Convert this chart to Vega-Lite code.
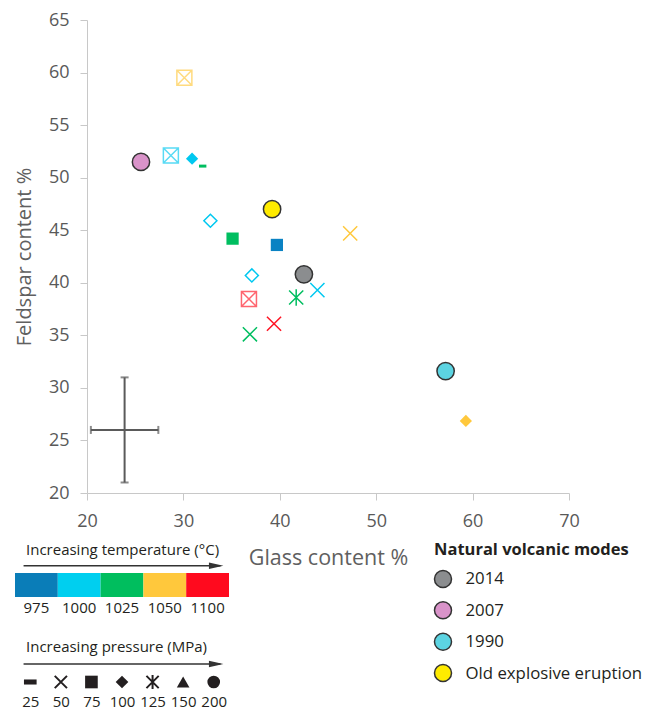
{
  "$schema": "https://vega.github.io/schema/vega-lite/v6.json",
  "padding": {"left": 14, "top": 11, "right": 0, "bottom": 0},
  "config": {
    "font": "Open Sans",
    "view": {"stroke": null},
    "axis": {"grid": false, "domainColor": "#C8C8C8", "tickColor": "#C8C8C8", "tickSize": 7, "labelFontSize": 18, "labelColor": "#595959", "titleFontSize": 20, "titleFontWeight": "normal", "titleColor": "#606060"}
  },
  "datasets": {
    "experiments": [
      {"glass": 30.1, "feldspar": 59.5, "temp": 1050, "symbol": "boxed-x"},
      {"glass": 28.7, "feldspar": 52.1, "temp": 1000, "symbol": "boxed-x"},
      {"glass": 30.9, "feldspar": 51.8, "temp": 1000, "symbol": "diamond"},
      {"glass": 32.0, "feldspar": 51.1, "temp": 1025, "symbol": "dash"},
      {"glass": 32.8, "feldspar": 45.9, "temp": 1000, "symbol": "open-diamond"},
      {"glass": 35.1, "feldspar": 44.2, "temp": 1025, "symbol": "square"},
      {"glass": 39.7, "feldspar": 43.6, "temp": 975, "symbol": "square"},
      {"glass": 47.3, "feldspar": 44.7, "temp": 1050, "symbol": "x"},
      {"glass": 37.1, "feldspar": 40.7, "temp": 1000, "symbol": "open-diamond"},
      {"glass": 43.9, "feldspar": 39.3, "temp": 1000, "symbol": "x"},
      {"glass": 36.8, "feldspar": 38.45, "temp": 1100, "symbol": "boxed-x"},
      {"glass": 41.7, "feldspar": 38.6, "temp": 1025, "symbol": "asterisk"},
      {"glass": 39.4, "feldspar": 36.1, "temp": 1100, "symbol": "x"},
      {"glass": 36.9, "feldspar": 35.1, "temp": 1025, "symbol": "x"},
      {"glass": 59.3, "feldspar": 26.85, "temp": 1050, "symbol": "diamond"}
    ],
    "natural": [
      {"mode": "2014", "glass": 42.5, "feldspar": 40.8},
      {"mode": "2007", "glass": 25.6, "feldspar": 51.5},
      {"mode": "1990", "glass": 57.2, "feldspar": 31.6},
      {"mode": "Old explosive eruption", "glass": 39.2, "feldspar": 47.0}
    ],
    "uncertainty": [{"glass": 23.9, "feldspar": 26.0, "glass_err": 3.5, "feldspar_err": 5.0}],
    "temperatures": [{"temp": 975}, {"temp": 1000}, {"temp": 1025}, {"temp": 1050}, {"temp": 1100}],
    "pressures": [{"p": 25}, {"p": 50}, {"p": 75}, {"p": 100}, {"p": 125}, {"p": 150}, {"p": 200}],
    "none": []
  },
  "spacing": -28,
  "resolve": {"scale": {"color": "independent", "fill": "independent", "shape": "independent", "stroke": "independent"}},
  "vconcat": [
    {
      "spacing": -2,
      "resolve": {"scale": {"color": "independent", "fill": "independent", "shape": "independent", "stroke": "independent"}},
      "hconcat": [
        {"width": 1, "height": 1, "data": {"name": "none"}, "mark": "point"},
        {
          "width": 482,
          "height": 473,
          "encoding": {
            "x": {"field": "glass", "type": "quantitative", "scale": {"domain": [20, 70], "nice": false, "zero": false},
              "axis": {"values": [20, 30, 40, 50, 60, 70], "labelPadding": 12, "labelFlush": false, "labelOverlap": false, "title": "Glass content %", "titleFontSize": 21.5, "titlePadding": 17}},
            "y": {"field": "feldspar", "type": "quantitative", "scale": {"domain": [20, 65], "nice": false, "zero": false},
              "axis": {"values": [20, 25, 30, 35, 40, 45, 50, 55, 60, 65], "labelPadding": 11, "labelOverlap": false, "title": "Feldspar content %", "titlePadding": 14}}
          },
          "layer": [
            {"data": {"name": "uncertainty"}, "mark": {"type": "errorbar", "ticks": true, "size": 8, "thickness": 2, "color": "#5a5a5a"}, "encoding": {"xError": {"field": "glass_err"}}},
            {"data": {"name": "uncertainty"}, "mark": {"type": "errorbar", "ticks": true, "size": 8, "thickness": 2, "color": "#5a5a5a"}, "encoding": {"yError": {"field": "feldspar_err"}}},
            {"data": {"name": "natural"}, "mark": {"type": "point", "shape": "circle", "filled": true, "size": 300, "stroke": "#333333", "strokeWidth": 1.5, "opacity": 1},
              "encoding": {"fill": {"field": "mode", "type": "nominal", "scale": {"domain": ["2014", "2007", "1990", "Old explosive eruption"], "range": ["#8B8D8F", "#D993C9", "#5CD4E2", "#FFEB00"]}, "legend": null}}},
            {"data": {"name": "experiments"}, "transform": [{"filter": {"field": "symbol", "equal": "square"}}],
              "mark": {"type": "point", "shape": "square", "filled": true, "size": 150, "opacity": 1},
              "encoding": {"color": {"field": "temp", "type": "ordinal", "scale": {"domain": [975, 1000, 1025, 1050, 1100], "range": ["#0A82C3", "#00C8F0", "#00BE60", "#FFC83C", "#FF1423"]}, "legend": null}}},
            {"data": {"name": "experiments"}, "transform": [{"filter": {"field": "symbol", "equal": "diamond"}}],
              "mark": {"type": "point", "shape": "diamond", "filled": true, "size": 150, "opacity": 1},
              "encoding": {"color": {"field": "temp", "type": "ordinal", "legend": null}}},
            {"data": {"name": "experiments"}, "transform": [{"filter": {"field": "symbol", "equal": "dash"}}],
              "mark": {"type": "point", "shape": "M-1,-0.4H1V0.4H-1Z", "filled": true, "size": 55, "opacity": 1},
              "encoding": {"color": {"field": "temp", "type": "ordinal", "legend": null}}},
            {"data": {"name": "experiments"}, "transform": [{"filter": {"field": "symbol", "equal": "open-diamond"}}],
              "mark": {"type": "point", "shape": "diamond", "filled": false, "size": 170, "strokeWidth": 1.5, "opacity": 1},
              "encoding": {"color": {"field": "temp", "type": "ordinal", "legend": null}}},
            {"data": {"name": "experiments"}, "transform": [{"filter": {"field": "symbol", "equal": "x"}}],
              "mark": {"type": "point", "shape": "M-1,-1L1,1M-1,1L1,-1", "filled": false, "size": 200, "strokeWidth": 1.5, "opacity": 1},
              "encoding": {"color": {"field": "temp", "type": "ordinal", "legend": null}}},
            {"data": {"name": "experiments"}, "transform": [{"filter": {"field": "symbol", "equal": "asterisk"}}],
              "mark": {"type": "point", "shape": "M-1,-1L1,1M-1,1L1,-1M0,-1.15L0,1.15", "filled": false, "size": 200, "strokeWidth": 1.5, "opacity": 1},
              "encoding": {"color": {"field": "temp", "type": "ordinal", "legend": null}}},
            {"data": {"name": "experiments"}, "transform": [{"filter": {"field": "symbol", "equal": "boxed-x"}}],
              "mark": {"type": "point", "shape": "M-1,-1H1V1H-1ZM-1,-1L1,1M-1,1L1,-1", "filled": false, "size": 225, "strokeWidth": 1.5, "opacity": 0.65},
              "encoding": {"color": {"field": "temp", "type": "ordinal", "legend": null}}}
          ]
        }
      ]
    },
    {
      "spacing": 202,
      "resolve": {"scale": {"color": "independent", "fill": "independent", "shape": "independent", "stroke": "independent"}},
      "hconcat": [
        {
          "spacing": 24,
          "resolve": {"scale": {"color": "independent", "fill": "independent", "shape": "independent", "stroke": "independent"}},
          "vconcat": [
            {
              "width": 214,
              "height": 24,
              "title": {"text": "Increasing temperature (°C)", "anchor": "start", "frame": "group", "dx": 11, "fontSize": 15, "fontWeight": "normal", "color": "#231F20", "offset": 5},
              "resolve": {"scale": {"x": "independent"}},
              "layer": [
                {"data": {"name": "temperatures"}, "mark": {"type": "rect"},
                  "encoding": {
                    "x": {"field": "temp", "type": "ordinal", "scale": {"paddingInner": 0, "paddingOuter": 0},
                      "axis": {"orient": "bottom", "domain": false, "ticks": false, "labelAngle": 0, "labelPadding": 3, "labelFontSize": 15, "labelColor": "#231F20", "title": null}},
                    "color": {"field": "temp", "type": "ordinal", "scale": {"domain": [975, 1000, 1025, 1050, 1100], "range": ["#0A7DB8", "#00CFEF", "#00BE5E", "#FFC83C", "#FF0A1E"]}, "legend": null}
                  }},
                {"data": {"values": [{}]}, "mark": {"type": "rule", "color": "#333333", "strokeWidth": 1.5},
                  "encoding": {
                    "x": {"datum": 0.04, "type": "quantitative", "scale": {"domain": [0, 1]}, "axis": null},
                    "x2": {"datum": 0.96},
                    "y": {"datum": 1.3, "type": "quantitative", "scale": {"domain": [0, 1]}, "axis": null}
                  }},
                {"data": {"values": [{}]}, "mark": {"type": "point", "shape": "M-1,-0.45L1,0L-1,0.45Z", "filled": true, "color": "#333333", "size": 210, "opacity": 1},
                  "encoding": {
                    "x": {"datum": 0.94, "type": "quantitative", "scale": {"domain": [0, 1]}, "axis": null},
                    "y": {"datum": 1.3, "type": "quantitative", "scale": {"domain": [0, 1]}, "axis": null}
                  }}
              ]
            },
            {
              "width": 214,
              "height": 20,
              "title": {"text": "Increasing pressure (MPa)", "anchor": "start", "frame": "group", "dx": 11, "fontSize": 15, "fontWeight": "normal", "color": "#231F20", "offset": 6},
              "resolve": {"scale": {"x": "independent"}},
              "layer": [
                {"data": {"values": [{}]}, "mark": {"type": "rule", "color": "#333333", "strokeWidth": 1.5},
                  "encoding": {
                    "x": {"datum": 0.04, "type": "quantitative", "scale": {"domain": [0, 1]}, "axis": null},
                    "x2": {"datum": 0.96},
                    "y": {"datum": 1.4, "type": "quantitative", "scale": {"domain": [0, 1]}, "axis": null}
                  }},
                {"data": {"values": [{}]}, "mark": {"type": "point", "shape": "M-1,-0.45L1,0L-1,0.45Z", "filled": true, "color": "#333333", "size": 210, "opacity": 1},
                  "encoding": {
                    "x": {"datum": 0.94, "type": "quantitative", "scale": {"domain": [0, 1]}, "axis": null},
                    "y": {"datum": 1.4, "type": "quantitative", "scale": {"domain": [0, 1]}, "axis": null}
                  }},
                {"data": {"name": "pressures"}, "transform": [{"filter": {"field": "p", "oneOf": [25, 75, 100, 150, 200]}}],
                  "mark": {"type": "point", "filled": true, "color": "#231F20", "size": 160, "opacity": 1},
                  "encoding": {
                    "x": {"field": "p", "type": "ordinal", "scale": {"domain": [25, 50, 75, 100, 125, 150, 200], "paddingInner": 0, "paddingOuter": 0},
                      "axis": {"orient": "bottom", "domain": false, "ticks": false, "labelAngle": 0, "labelPadding": 2, "labelFontSize": 15, "labelColor": "#231F20", "title": null}},
                    "shape": {"field": "p", "type": "ordinal", "scale": {"domain": [25, 50, 75, 100, 125, 150, 200], "range": ["M-1,-0.4H1V0.4H-1Z", "M-1,-1L1,1M-1,1L1,-1", "square", "diamond", "M-1,-1L1,1M-1,1L1,-1M0,-1.15L0,1.15", "triangle-up", "circle"]}, "legend": null}
                  }},
                {"data": {"name": "pressures"}, "transform": [{"filter": {"field": "p", "oneOf": [50, 125]}}],
                  "mark": {"type": "point", "filled": false, "color": "#231F20", "size": 150, "strokeWidth": 2, "opacity": 1},
                  "encoding": {
                    "x": {"field": "p", "type": "ordinal", "scale": {"domain": [25, 50, 75, 100, 125, 150, 200], "paddingInner": 0, "paddingOuter": 0}, "axis": null},
                    "shape": {"field": "p", "type": "ordinal", "legend": null}
                  }}
              ]
            }
          ]
        },
        {
          "width": 18,
          "height": 106,
          "title": {"text": "Natural volcanic modes", "anchor": "start", "frame": "group", "fontSize": 16.5, "fontWeight": "bold", "color": "#231F20", "offset": 9},
          "data": {"name": "natural"},
          "mark": {"type": "point", "shape": "circle", "filled": true, "size": 290, "stroke": "#333333", "strokeWidth": 1.5, "opacity": 1},
          "encoding": {
            "y": {"field": "mode", "type": "nominal", "scale": {"domain": ["2014", "2007", "1990", "Old explosive eruption"], "padding": 0.19},
              "axis": {"orient": "right", "domain": false, "ticks": false, "labelPadding": 13, "labelFontSize": 16.8, "labelLimit": 300, "labelColor": "#231F20", "title": null}},
            "fill": {"field": "mode", "type": "nominal", "scale": {"domain": ["2014", "2007", "1990", "Old explosive eruption"], "range": ["#8B8D8F", "#D993C9", "#5CD4E2", "#FFEB00"]}, "legend": null}
          }
        }
      ]
    }
  ]
}
